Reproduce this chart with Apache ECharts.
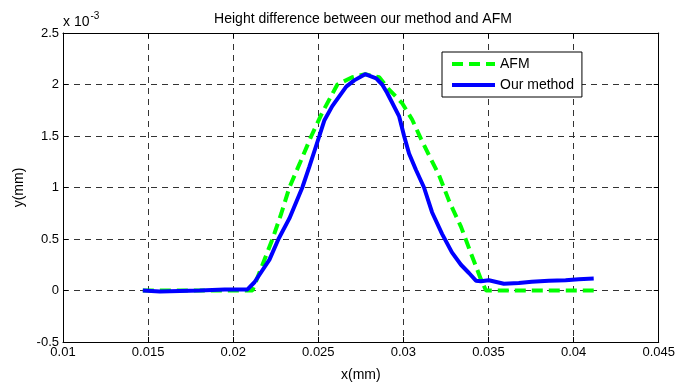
<!DOCTYPE html>
<html>
<head>
<meta charset="utf-8">
<script src="https://cdn.jsdelivr.net/npm/echarts@6/dist/echarts.min.js"></script>
<style>
html,body{margin:0;padding:0;background:#fff;}
#c{width:678px;height:387px;}
</style>
</head>
<body>
<div id="c"></div>
<script>
// Data (y values in units of 1e-3 mm)
var afmX = [0.01469, 0.02113, 0.02172, 0.02231, 0.02283, 0.02330, 0.02395, 0.02459, 0.02524, 0.02612, 0.02699, 0.02775, 0.02858, 0.02916, 0.02992, 0.03051, 0.03104, 0.03151, 0.03209, 0.03268, 0.03338, 0.03397, 0.03455, 0.03485, 0.04118];
var afmY = [0, 0, 0.25, 0.5, 0.75, 1.0, 1.25, 1.5, 1.73, 2.0, 2.07, 2.10, 2.07, 1.95, 1.82, 1.66, 1.47, 1.31, 1.12, 0.87, 0.62, 0.36, 0.11, 0, 0];
var oursX = [0.01469, 0.01569, 0.01803, 0.01950, 0.02084, 0.02125, 0.02213, 0.02266, 0.02330, 0.02406, 0.02447, 0.02506, 0.02535, 0.02582, 0.02664, 0.02711, 0.02775, 0.02840, 0.02875, 0.02904, 0.02975, 0.03004, 0.03033, 0.03074, 0.03121, 0.03168, 0.03227, 0.03285, 0.03338, 0.03385, 0.03426, 0.03455, 0.03502, 0.03590, 0.03678, 0.03754, 0.03854, 0.03953, 0.04030, 0.04118];
var oursY = [0, -0.01, 0, 0.01, 0.01, 0.08, 0.30, 0.5, 0.70, 1.0, 1.2, 1.5, 1.65, 1.79, 1.98, 2.04, 2.10, 2.06, 2.0, 1.92, 1.69, 1.5, 1.33, 1.17, 1.0, 0.76, 0.55, 0.37, 0.25, 0.17, 0.095, 0.09, 0.10, 0.065, 0.073, 0.085, 0.095, 0.10, 0.11, 0.117];
var xTicks = [0.01, 0.015, 0.02, 0.025, 0.03, 0.035, 0.04, 0.045];
var yTicks = [-0.5, 0, 0.5, 1, 1.5, 2, 2.5];
var titleText = 'Height difference between our method and AFM';
var seriesNames = ['AFM', 'Our method'];

function zip(a, b) { return a.map(function (v, i) { return [v, b[i]]; }); }
var FONT = 'Liberation Sans, Arial, sans-serif';
var gridDash = { color: '#333', type: [6, 5], width: 1 };

var chart = echarts.init(document.getElementById('c'), null, { renderer: 'canvas' });
chart.setOption({
  backgroundColor: '#fff',
  animation: false,
  title: {
    text: titleText, left: 358, top: 7, textAlign: 'center',
    textStyle: { fontFamily: FONT, fontSize: 14, fontWeight: 'normal', color: '#000' }
  },
  legend: {
    data: seriesNames, orient: 'vertical', left: 442, top: 52,
    itemWidth: 43, itemHeight: 14, itemGap: 7,
    padding: [5, 8, 5, 8],
    itemStyle: { opacity: 0 },
    lineStyle: { width: 4 },
    borderColor: '#000', borderWidth: 1, backgroundColor: '#fff',
    textStyle: { fontFamily: FONT, fontSize: 14, color: '#000' }
  },
  grid: { left: 63, right: 19, top: 33, bottom: 38 },
  xAxis: [{
    type: 'value', min: xTicks[0], max: xTicks[xTicks.length - 1], interval: 0.005,
    name: 'x(mm)', nameLocation: 'middle', nameGap: 26,
    nameTextStyle: { fontFamily: FONT, fontSize: 14, color: '#000' },
    axisLine: { show: true, onZero: false, lineStyle: { color: '#000', width: 1 } },
    axisTick: { show: true, inside: true, length: 5, lineStyle: { color: '#000' } },
    axisLabel: { fontFamily: FONT, fontSize: 13, color: '#000', margin: 4,
      formatter: function (v) { return String(parseFloat(v.toFixed(4))); } },
    splitLine: { show: true, lineStyle: gridDash }
  }, {
    type: 'value', position: 'top', min: xTicks[0], max: xTicks[xTicks.length - 1], interval: 0.005,
    axisLine: { show: true, onZero: false, lineStyle: { color: '#000', width: 1 } },
    axisTick: { show: true, inside: true, length: 5, lineStyle: { color: '#000' } },
    axisLabel: { show: false }, splitLine: { show: false }
  }],
  yAxis: [{
    type: 'value', min: yTicks[0], max: yTicks[yTicks.length - 1], interval: 0.5,
    name: 'y(mm)', nameLocation: 'middle', nameGap: 36, nameRotate: 90,
    nameTextStyle: { fontFamily: FONT, fontSize: 14, color: '#000' },
    axisLine: { show: true, onZero: false, lineStyle: { color: '#000', width: 1 } },
    axisTick: { show: true, inside: true, length: 5, lineStyle: { color: '#000' } },
    axisLabel: { fontFamily: FONT, fontSize: 13, color: '#000', margin: 4,
      formatter: function (v) { return String(parseFloat(v.toFixed(2))); } },
    splitLine: { show: true, lineStyle: gridDash }
  }, {
    type: 'value', position: 'right', min: yTicks[0], max: yTicks[yTicks.length - 1], interval: 0.5,
    axisLine: { show: true, onZero: false, lineStyle: { color: '#000', width: 1 } },
    axisTick: { show: true, inside: true, length: 5, lineStyle: { color: '#000' } },
    axisLabel: { show: false }, splitLine: { show: false }
  }],
  graphic: [{
    type: 'text', left: 63, top: 11,
    style: {
      text: '{a|x 10}{b|-3}',
      rich: {
        a: { fontFamily: FONT, fontSize: 14, fill: '#000', verticalAlign: 'bottom' },
        b: { fontFamily: FONT, fontSize: 10, fill: '#000', verticalAlign: 'top', padding: [0, 0, 8, 1] }
      }
    }
  }],
  series: [{
    name: seriesNames[0], type: 'line', symbol: 'none', z: 2,
    data: zip(afmX, afmY),
    lineStyle: { color: '#00ff00', width: 4, type: [11, 6] },
    itemStyle: { color: '#00ff00' }
  }, {
    name: seriesNames[1], type: 'line', symbol: 'none', z: 3,
    data: zip(oursX, oursY),
    lineStyle: { color: '#0000ff', width: 4 },
    itemStyle: { color: '#0000ff' }
  }]
});
</script>
</body>
</html>
